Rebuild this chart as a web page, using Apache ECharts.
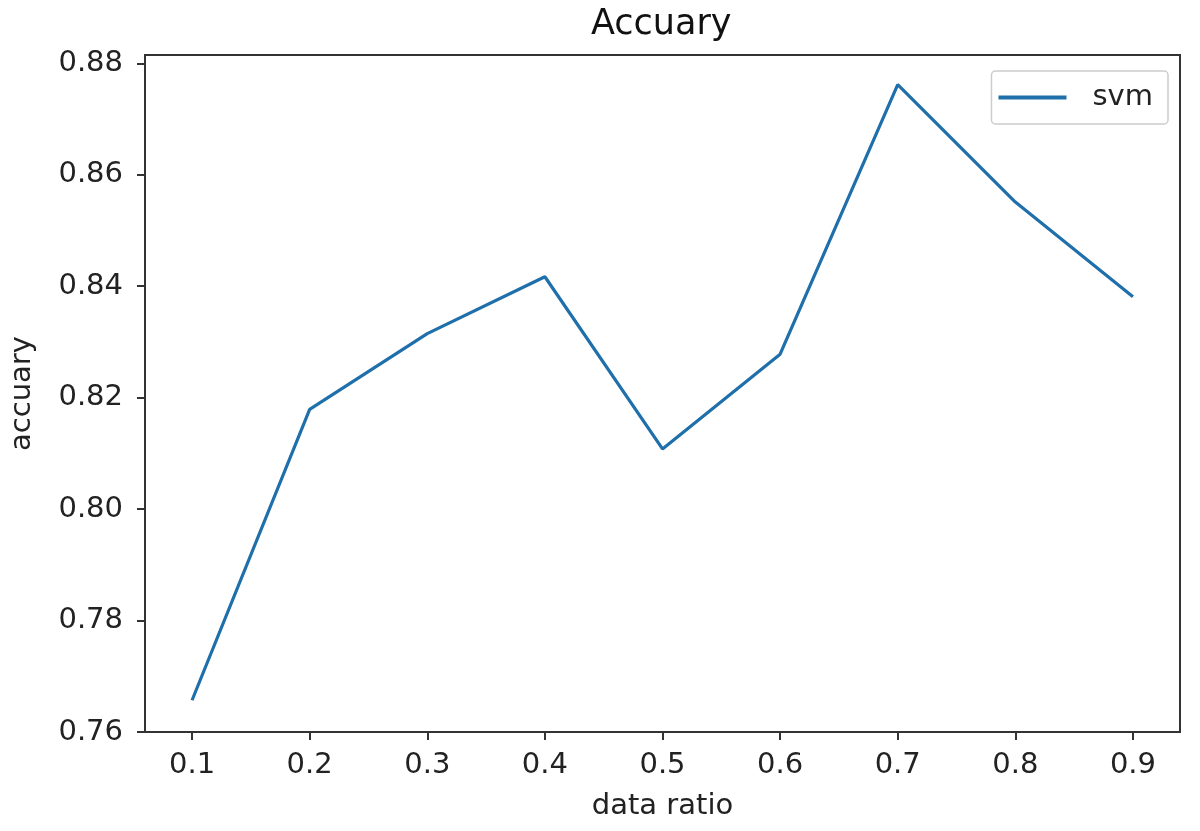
<!DOCTYPE html>
<html>
<head>
<meta charset="utf-8">
<script src="https://cdn.jsdelivr.net/npm/echarts@6/dist/echarts.min.js"></script>
<style>
html,body{margin:0;padding:0;background:#fff;}
#chart{width:1200px;height:831px;}
</style>
</head>
<body>
<div id="chart"></div>
<script>
const titleText = 'Accuary';
const xName = 'data ratio';
const yName = 'accuary';
const seriesName = 'svm';
const dataRatio = [0.1, 0.2, 0.3, 0.4, 0.5, 0.6, 0.7, 0.8, 0.9];
const svmAccuracy = [0.7657, 0.8179, 0.8315, 0.8417, 0.8108, 0.8278, 0.8762, 0.8551, 0.8381];
const xTicks = [0.1, 0.2, 0.3, 0.4, 0.5, 0.6, 0.7, 0.8, 0.9];
const yTicks = [0.76, 0.78, 0.80, 0.82, 0.84, 0.86, 0.88];

const font = 'DejaVu Sans';
const chart = echarts.init(document.getElementById('chart'), null, {renderer: 'canvas'});
const axisCommon = {
  axisLine: {show: true, lineStyle: {color: '#333', width: 2}},
  axisTick: {show: true, inside: false, length: 8, lineStyle: {color: '#333', width: 2}},
  splitLine: {show: false},
  nameTextStyle: {fontFamily: font, fontSize: 29, color: '#222'}
};
chart.setOption({
  animation: false,
  backgroundColor: '#fff',
  title: {
    text: titleText,
    left: 586, top: 2,
    textStyle: {fontFamily: font, fontSize: 35, fontWeight: 'normal', color: '#111'}
  },
  legend: {
    data: [seriesName],
    right: 32, top: 71,
    orient: 'vertical',
    icon: 'rect',
    itemWidth: 68, itemHeight: 4,
    padding: [12, 15, 12, 7],
    borderColor: '#ccc', borderWidth: 1.5, borderRadius: 4,
    backgroundColor: '#fff',
    textStyle: {fontFamily: font, fontSize: 29, color: '#222', padding: [0, 0, 0, 21]}
  },
  grid: {
    left: 142, right: 20, top: 55, bottom: 99,
    show: true, borderColor: '#333', borderWidth: 2, backgroundColor: '#fff'
  },
  xAxis: Object.assign({}, axisCommon, {
    type: 'value',
    min: 0.06, max: 0.94,
    name: xName, nameLocation: 'middle', nameGap: 60,
    axisTick: Object.assign({}, axisCommon.axisTick, {customValues: xTicks}),
    axisLabel: {
      customValues: xTicks, margin: 19,
      fontFamily: font, fontSize: 29, color: '#222',
      formatter: v => v.toFixed(1)
    }
  }),
  yAxis: Object.assign({}, axisCommon, {
    type: 'value',
    min: 0.76, max: 0.8815,
    name: yName, nameLocation: 'middle', nameGap: 108,
    axisTick: Object.assign({}, axisCommon.axisTick, {customValues: yTicks}),
    axisLabel: {
      customValues: yTicks, margin: 22,
      fontFamily: font, fontSize: 29, color: '#222',
      formatter: v => v.toFixed(2)
    }
  }),
  series: [{
    name: seriesName,
    type: 'line',
    data: dataRatio.map((x, i) => [x, svmAccuracy[i]]),
    symbol: 'none',
    lineStyle: {color: '#1f6fab', width: 3.2},
    itemStyle: {color: '#1f6fab'}
  }]
});
</script>
</body>
</html>
